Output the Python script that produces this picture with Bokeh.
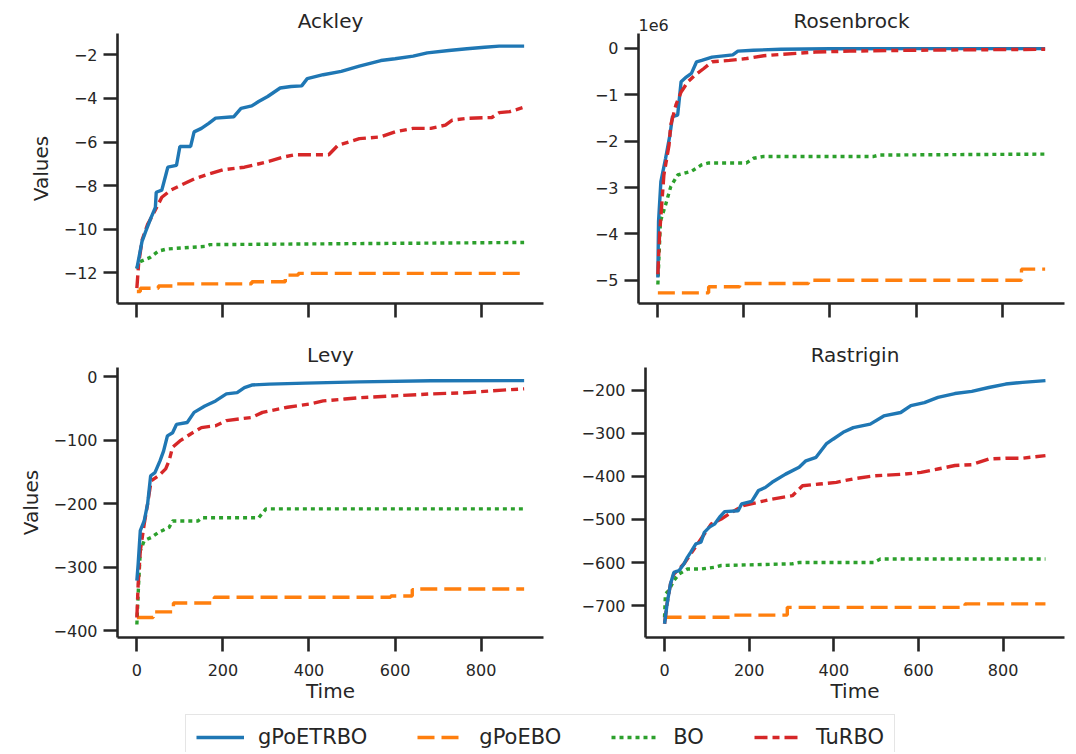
from bokeh.plotting import figure
from bokeh.layouts import column, row
from bokeh.models import Range1d, FixedTicker, Legend, LegendItem, Label
from bokeh.embed import file_html
from bokeh.resources import INLINE

# ---------------- data ----------------
METHODS = ["gPoETRBO", "gPoEBO", "BO", "TuRBO"]
X_TICKS = [0, 200, 400, 600, 800]

# Ackley
ack_gpoetrbo_t = [0, 12, 21, 33, 43, 45, 58, 68, 72, 92, 100, 125, 133, 150, 167, 183, 225, 242, 267, 283, 304, 333, 358, 383, 396, 433, 475, 517, 567, 600, 642, 675, 725, 767, 808, 842, 900]
ack_gpoetrbo_v = [-11.8, -10.55, -10.07, -9.46, -9.0, -8.3, -8.2, -7.45, -7.15, -7.07, -6.2, -6.2, -5.53, -5.37, -5.14, -4.9, -4.84, -4.45, -4.34, -4.14, -3.91, -3.52, -3.45, -3.42, -3.09, -2.91, -2.76, -2.52, -2.26, -2.18, -2.06, -1.91, -1.8, -1.72, -1.65, -1.6, -1.6]
ack_turbo_t = [0, 4, 12, 25, 42, 58, 79, 100, 133, 167, 200, 250, 300, 342, 367, 446, 467, 517, 567, 600, 642, 683, 717, 733, 767, 825, 842, 867, 900]
ack_turbo_v = [-12.7, -11.6, -10.5, -9.77, -9.15, -8.53, -8.2, -8.0, -7.69, -7.46, -7.27, -7.15, -6.92, -6.68, -6.58, -6.58, -6.15, -5.84, -5.76, -5.53, -5.37, -5.37, -5.22, -4.99, -4.91, -4.87, -4.65, -4.6, -4.4]
ack_bo_t = [0, 5, 30, 50, 70, 160, 170, 690, 900]
ack_bo_v = [-11.8, -11.5, -11.3, -11.0, -10.9, -10.78, -10.7, -10.63, -10.6]
ack_gpoebo_t = [0, 8, 50, 92, 267, 345, 375, 900]
ack_gpoebo_v = [-12.85, -12.7, -12.6, -12.5, -12.4, -12.1, -12.02, -12.0]
ack_yticks = [-12, -10, -8, -6, -4, -2]

# Rosenbrock (values in units of 1e6)
ros_gpoetrbo_t = [0, 1.6, 7, 18, 28, 34, 46, 54, 66, 78, 90, 102, 126, 174, 186, 222, 286, 400, 600, 900]
ros_gpoetrbo_v = [-4.94, -3.73, -2.87, -2.37, -1.87, -1.47, -1.44, -0.72, -0.62, -0.54, -0.29, -0.26, -0.19, -0.14, -0.06, -0.04, -0.02, -0.01, -0.007, -0.005]
ros_turbo_t = [0, 4, 14, 26, 30, 42, 54, 70, 86, 106, 126, 166, 206, 246, 286, 366, 446, 606, 900]
ros_turbo_v = [-4.87, -4.01, -2.73, -2.08, -1.65, -1.22, -0.94, -0.72, -0.58, -0.44, -0.29, -0.26, -0.22, -0.16, -0.13, -0.08, -0.06, -0.04, -0.02]
ros_bo_t = [0, 6, 18, 30, 46, 78, 102, 118, 206, 222, 246, 502, 514, 900]
ros_bo_v = [-5.09, -3.73, -3.37, -2.98, -2.73, -2.65, -2.51, -2.47, -2.47, -2.37, -2.33, -2.33, -2.3, -2.28]
ros_gpoebo_t = [0, 118, 190, 350, 845, 900]
ros_gpoebo_v = [-5.27, -5.14, -5.07, -5.0, -4.76, -4.76]
ros_yticks = [-5, -4, -3, -2, -1, 0]

# Levy
levy_gpoetrbo_t = [0, 3, 8, 17, 25, 32, 42, 54, 62, 71, 83, 92, 117, 133, 158, 183, 208, 233, 250, 267, 308, 392, 517, 683, 900]
levy_gpoetrbo_v = [-321, -295, -242, -227, -200, -156, -151, -132, -117, -93, -88, -75, -72, -56, -46, -38, -27, -25, -17, -13, -11.5, -10, -8, -6.3, -6]
levy_turbo_t = [0, 3, 8, 17, 25, 33, 50, 67, 75, 83, 100, 125, 150, 183, 208, 267, 292, 350, 400, 433, 483, 517, 600, 683, 767, 850, 900]
levy_turbo_v = [-379, -327, -274, -232, -200, -164, -156, -145, -132, -111, -101, -90, -80, -77, -69, -64, -56, -48, -43, -38, -35, -33, -30, -27, -25, -21, -19]
levy_bo_t = [0, 4, 8, 17, 33, 50, 75, 83, 142, 150, 283, 300, 900]
levy_bo_v = [-390, -327, -274, -258, -253, -245, -237, -227, -227, -222, -222, -208, -208]
levy_gpoebo_t = [0, 38, 85, 180, 590, 640, 650, 900]
levy_gpoebo_v = [-379, -370, -356, -347, -345, -335, -334, -334]
levy_yticks = [-400, -300, -200, -100, 0]

# Rastrigin
ras_gpoetrbo_t = [0, 6, 14, 22, 34, 46, 54, 62, 74, 86, 94, 106, 118, 130, 142, 174, 182, 206, 222, 238, 254, 286, 318, 334, 358, 382, 398, 422, 446, 486, 518, 558, 582, 614, 646, 686, 726, 766, 806, 846, 900]
ras_gpoetrbo_v = [-742, -696, -650, -623, -619, -603, -588, -576, -557, -553, -530, -518, -511, -495, -482, -480, -464, -458, -433, -426, -414, -395, -379, -364, -356, -325, -314, -298, -287, -279, -260, -252, -236, -229, -217, -208, -203, -194, -186, -182, -178]
ras_turbo_t = [0, 6, 14, 22, 34, 46, 62, 78, 94, 110, 134, 158, 186, 222, 254, 302, 326, 366, 406, 446, 494, 566, 606, 646, 686, 726, 766, 806, 846, 900]
ras_turbo_v = [-742, -696, -650, -627, -615, -603, -580, -557, -534, -511, -499, -484, -468, -460, -453, -445, -422, -418, -414, -406, -399, -395, -391, -383, -375, -373, -360, -358, -358, -352]
ras_bo_t = [0, 2, 10, 22, 34, 54, 86, 118, 134, 302, 318, 494, 510, 900]
ras_bo_v = [-727, -673, -665, -642, -627, -615, -615, -611, -607, -603, -600, -600, -592, -592]
ras_gpoebo_t = [0, 160, 290, 710, 900]
ras_gpoebo_v = [-727, -722, -704, -696, -696]
ras_yticks = [-700, -600, -500, -400, -300, -200]

# ---------------- styling ----------------
FONT = "DejaVu Sans"
INK = "#262626"
COLORS = {"gPoETRBO": "#1f77b4", "gPoEBO": "#ff7f0e", "BO": "#2ca02c", "TuRBO": "#d62728"}
DASH = {"gPoETRBO": "solid", "gPoEBO": "17 7", "BO": "4 4", "TuRBO": "13 5 7 5"}
LW = 3.4

W1, W2 = 578, 490          # column widths
BL1, BL2 = 117, 60         # left borders
FRAME_W = 426
HEAD_H = 33


def fmt(v):
    return str(v).replace("-", "\u2212")


def panel(title, series, yr, yticks, width, height, bl, br, bt, bb, xlabels, ylabel):
    kw_title = dict(title=title) if title else {}
    p = figure(width=width, height=height,
               x_range=Range1d(-45, 945), y_range=Range1d(*yr),
               output_backend="svg", toolbar_location=None,
               min_border_left=bl, min_border_right=br,
               min_border_top=bt, min_border_bottom=bb, **kw_title)
    p.outline_line_color = None
    p.grid.visible = False
    p.background_fill_color = "white"
    p.border_fill_color = "white"
    if title:
        p.title.text_font = FONT
        p.title.text_font_size = "20px"
        p.title.text_font_style = "normal"
        p.title.text_color = INK
        p.title.align = "center"
        p.title.standoff = 2
    for ax in (p.xaxis[0], p.yaxis[0]):
        ax.axis_line_color = INK
        ax.axis_line_width = 2.6
        ax.major_tick_line_color = INK
        ax.major_tick_line_width = 2.6
        ax.major_tick_out = 14
        ax.major_tick_in = 0
        ax.minor_tick_line_color = None
        ax.major_label_text_font = FONT
        ax.major_label_text_font_size = "16px"
        ax.major_label_text_color = INK
        ax.major_label_standoff = 6
        ax.axis_label_text_font = FONT
        ax.axis_label_text_font_size = "20px"
        ax.axis_label_text_font_style = "normal"
        ax.axis_label_text_color = INK
    p.xaxis.ticker = FixedTicker(ticks=X_TICKS)
    p.yaxis.ticker = FixedTicker(ticks=yticks)
    p.yaxis.major_label_overrides = {v: fmt(v) for v in yticks}
    if xlabels:
        p.xaxis.axis_label = "Time"
        p.xaxis.major_label_standoff = 12
        p.xaxis.axis_label_standoff = 0
    else:
        p.xaxis.major_label_overrides = {v: "" for v in X_TICKS}
    if ylabel:
        p.yaxis.axis_label = "Values"
        p.yaxis.axis_label_standoff = 8
    for name, t, v, kind in series:
        kw = dict(line_color=COLORS[name], line_width=LW, line_dash=DASH[name])
        if kind == "step":
            p.step(t, v, mode="after", **kw)
        else:
            p.line(t, v, **kw)
    return p


H1, H2 = 270 + 36, 28 + 270 + 68

# header strip with the top-row titles and the Rosenbrock offset text
head = figure(width=W1 + W2, height=HEAD_H, x_range=Range1d(0, 1), y_range=Range1d(0, 1),
              x_axis_type=None, y_axis_type=None, output_backend="svg",
              toolbar_location=None, min_border=0)
head.outline_line_color = None
head.grid.visible = False
head.add_layout(Label(x=BL1 + FRAME_W / 2, y=13, x_units="screen", y_units="screen",
                      text="Ackley", text_font=FONT, text_font_size="20px", text_color=INK,
                      text_align="center", text_baseline="alphabetic"))
head.add_layout(Label(x=W1 + BL2 + FRAME_W / 2, y=13, x_units="screen", y_units="screen",
                      text="Rosenbrock", text_font=FONT, text_font_size="20px", text_color=INK,
                      text_align="center", text_baseline="alphabetic"))
head.add_layout(Label(x=W1 + BL2, y=9, x_units="screen", y_units="screen",
                      text="1e6", text_font=FONT, text_font_size="16px", text_color=INK,
                      text_align="left", text_baseline="alphabetic"))

p_ack = panel(None, [
    ("gPoEBO", ack_gpoebo_t, ack_gpoebo_v, "step"),
    ("BO", ack_bo_t, ack_bo_v, "line"),
    ("TuRBO", ack_turbo_t, ack_turbo_v, "line"),
    ("gPoETRBO", ack_gpoetrbo_t, ack_gpoetrbo_v, "line"),
], (-13.40, -1.02), ack_yticks, W1, H1, BL1, 35, 0, 36, False, True)

p_ros = panel(None, [
    ("gPoEBO", ros_gpoebo_t, ros_gpoebo_v, "step"),
    ("BO", ros_bo_t, ros_bo_v, "line"),
    ("gPoETRBO", ros_gpoetrbo_t, ros_gpoetrbo_v, "line"),
    ("TuRBO", ros_turbo_t, ros_turbo_v, "line"),
], (-5.50, 0.32), ros_yticks, W2, H1, BL2, 4, 0, 36, False, False)

p_levy = panel("Levy", [
    ("gPoEBO", levy_gpoebo_t, levy_gpoebo_v, "step"),
    ("BO", levy_bo_t, levy_bo_v, "line"),
    ("TuRBO", levy_turbo_t, levy_turbo_v, "line"),
    ("gPoETRBO", levy_gpoetrbo_t, levy_gpoetrbo_v, "line"),
], (-410.4, 14.6), levy_yticks, W1, H2, BL1, 35, 28, 68, True, True)

p_ras = panel("Rastrigin", [
    ("gPoEBO", ras_gpoebo_t, ras_gpoebo_v, "step"),
    ("BO", ras_bo_t, ras_bo_v, "line"),
    ("TuRBO", ras_turbo_t, ras_turbo_v, "line"),
    ("gPoETRBO", ras_gpoetrbo_t, ras_gpoetrbo_v, "line"),
], (-774, -147.6), ras_yticks, W2, H2, BL2, 4, 28, 68, True, False)

# legend strip
leg = figure(width=W1 + W2, height=47, x_range=Range1d(0, 1), y_range=Range1d(0, 1),
             x_axis_type=None, y_axis_type=None, output_backend="svg", toolbar_location=None,
             min_border=0)
leg.outline_line_color = None
leg.grid.visible = False
items = []
nan = float("nan")
for name in METHODS:
    r = leg.line([nan], [nan], line_color=COLORS[name], line_width=LW, line_dash=DASH[name])
    items.append(LegendItem(label=name, renderers=[r]))
legend = Legend(items=items, orientation="horizontal", location=(185, -8),
                label_text_font=FONT, label_text_font_size="21px", label_text_color=INK,
                glyph_width=48, glyph_height=24, label_height=24, label_standoff=14,
                spacing=50, padding=10, margin=0,
                border_line_color="#cccccc", border_line_width=1.2,
                background_fill_color="white", background_fill_alpha=1.0)
leg.add_layout(legend)

layout = column(head, row(p_ack, p_ros, spacing=0), row(p_levy, p_ras, spacing=0), leg, spacing=0)

open("out.html", "w").write(file_html(layout, INLINE))
